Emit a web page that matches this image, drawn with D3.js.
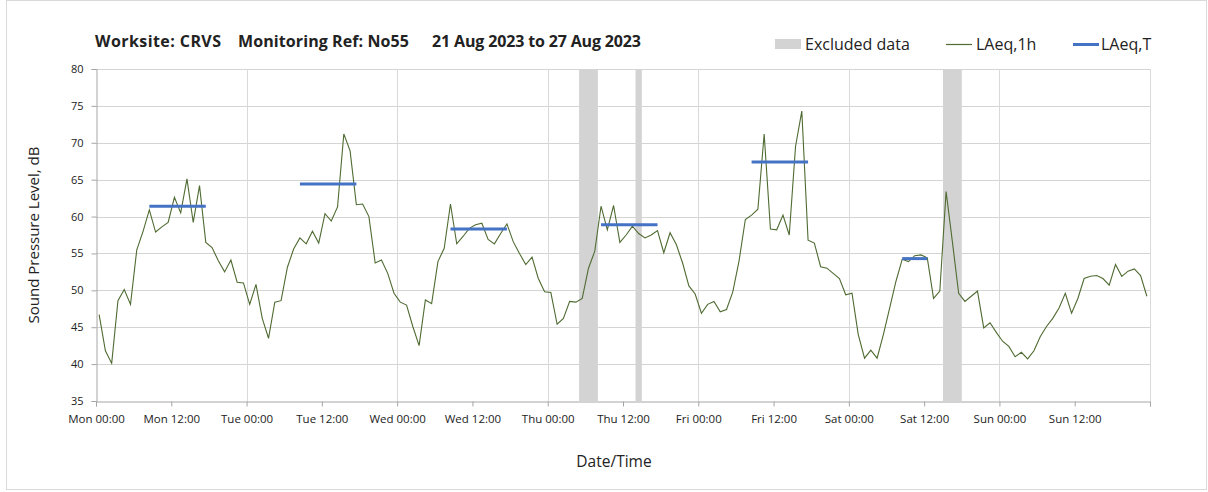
<!DOCTYPE html>
<html>
<head>
<meta charset="utf-8">
<script src="https://cdn.jsdelivr.net/npm/d3@7"></script>
<style>
  body { margin: 0; background: #fff; }
  svg text { font-family: "Open Sans", "Noto Sans", sans-serif; fill: #222; }
</style>
</head>
<body>
<div id="chart"></div>
<script>
// hourly LAeq,1h values, one array per day (point sits mid-hour)
var monLevels = [46.7, 41.8, 40.1, 48.6, 50.1, 48.1, 55.5, 58.0, 60.9, 57.9, 58.6, 59.2, 62.6, 60.5, 65.1, 59.2, 64.2, 56.5, 55.8, 54.0, 52.5, 54.1, 51.1, 51.0];
var tueLevels = [48.1, 50.8, 46.2, 43.5, 48.4, 48.6, 53.1, 55.6, 57.1, 56.3, 58.0, 56.4, 60.4, 59.4, 61.3, 71.2, 68.9, 61.6, 61.7, 60.0, 53.7, 54.1, 52.3, 49.6];
var wedLevels = [48.4, 48.0, 45.1, 42.5, 48.7, 48.2, 53.9, 55.7, 61.7, 56.3, 57.3, 58.4, 58.9, 59.1, 56.9, 56.3, 57.7, 59.0, 56.6, 55.0, 53.5, 54.5, 51.6, 49.8];
var thuLevels = [49.7, 45.4, 46.2, 48.5, 48.4, 48.9, 53.0, 55.3, 61.4, 58.2, 61.5, 56.5, 57.5, 58.7, 57.7, 57.1, 57.5, 58.1, 55.1, 57.8, 56.2, 53.7, 50.6, 49.5];
var friLevels = [46.9, 48.1, 48.5, 47.1, 47.4, 49.8, 54.0, 59.6, 60.2, 61.0, 71.2, 58.3, 58.2, 60.2, 57.5, 69.5, 74.3, 56.8, 56.4, 53.2, 53.0, 52.3, 51.6, 49.4];
var satLevels = [49.6, 44.0, 40.8, 41.9, 40.8, 44.0, 47.6, 51.2, 54.2, 53.9, 54.7, 54.8, 54.4, 48.9, 49.9, 63.4, 56.6, 49.6, 48.5, 49.2, 49.9, 44.9, 45.6, 44.3];
var sunLevels = [43.1, 42.4, 41.0, 41.6, 40.7, 41.8, 43.7, 45.1, 46.2, 47.6, 49.6, 46.9, 48.9, 51.6, 51.9, 52.0, 51.6, 50.7, 53.5, 51.9, 52.6, 52.9, 52.0, 49.2];

// LAeq,T periods (hours from Mon 00:00)
var periodStart = [8.5, 32.5, 56.5, 80.5, 104.5, 128.5];
var periodEnd   = [17.5, 41.5, 65.5, 89.5, 113.5, 132.5];
var periodLevel = [61.4, 64.4, 58.3, 58.9, 67.4, 54.3];

// excluded data windows (hours from Mon 00:00)
var excludedStart = [77, 86, 135];
var excludedEnd   = [80, 87, 138];

var yTicks = [35, 40, 45, 50, 55, 60, 65, 70, 75, 80];
var startDate = new Date(2023, 7, 21, 0, 0);

function hoursFrom(h) {
    return new Date(startDate.getTime() + h * 3600 * 1000);
}

var allLevels = [].concat(monLevels, tueLevels, wedLevels, thuLevels, friLevels, satLevels, sunLevels);
var hourly = allLevels.map(function(v, i) { return {date: hoursFrom(i + 0.5), level: v}; });

var width = 1208, height = 492;
var margin = {top: 69, right: 58, bottom: 91, left: 96};

var svg = d3.select("#chart").append("svg")
    .attr("width", width)
    .attr("height", height);

// outer chart border
svg.append("rect")
    .attr("x", 6.5).attr("y", 0.5)
    .attr("width", width - 8).attr("height", height - 3)
    .attr("fill", "none")
    .attr("stroke", "#d9d9d9");

var x = d3.scaleTime()
    .domain([startDate, hoursFrom(168)])
    .range([margin.left, width - margin.right]);
var y = d3.scaleLinear()
    .domain([35, 80])
    .range([height - margin.bottom, margin.top]);

var formatTick = d3.timeFormat("%a %H:%M");

// excluded bands
svg.selectAll(".excluded")
    .data(excludedStart)
  .enter().append("rect")
    .attr("class", "excluded")
    .attr("x", function(d) { return x(hoursFrom(d)); })
    .attr("width", function(d, i) { return x(hoursFrom(excludedEnd[i])) - x(hoursFrom(d)); })
    .attr("y", y(80))
    .attr("height", y(35) - y(80))
    .attr("fill", "#d3d3d3");

// horizontal grid
svg.append("g")
    .selectAll("line")
    .data(yTicks.slice(1))
  .enter().append("line")
    .attr("x1", x.range()[0]).attr("x2", x.range()[1])
    .attr("y1", function(d) { return Math.round(y(d)) + 0.5; })
    .attr("y2", function(d) { return Math.round(y(d)) + 0.5; })
    .attr("stroke", "#d4d4d4")
    .attr("stroke-width", 1.2);

// vertical grid at midnight
var midnights = d3.timeDay.range(hoursFrom(24), hoursFrom(169));
svg.append("g")
    .selectAll("line")
    .data(midnights)
  .enter().append("line")
    .attr("x1", function(d) { return Math.round(x(d)) + 0.5; })
    .attr("x2", function(d) { return Math.round(x(d)) + 0.5; })
    .attr("y1", y(80)).attr("y2", y(35))
    .attr("stroke", "#d9d9d9")
    .attr("stroke-width", 1);

// y axis
var yAxis = svg.append("g")
    .attr("transform", "translate(" + (margin.left + 0.5) + ",0)")
    .call(d3.axisLeft(y).tickValues(yTicks).tickSize(5).tickPadding(8));
yAxis.select(".domain").attr("stroke", "#a6a6a6");
yAxis.selectAll(".tick line").attr("stroke", "#a6a6a6");
yAxis.selectAll("text").style("font-size", "11px").attr("fill", "#333");

// x axis
var xAxis = svg.append("g")
    .attr("transform", "translate(0," + (Math.round(y(35)) + 0.5) + ")")
    .call(d3.axisBottom(x)
        .tickValues(d3.timeHour.every(12).range(startDate, hoursFrom(169)))
        .tickSize(5)
        .tickPadding(8)
        .tickFormat(function(d) { return d < hoursFrom(168) ? formatTick(d) : ""; }));
xAxis.select(".domain").attr("stroke", "#a6a6a6");
xAxis.selectAll(".tick line").attr("stroke", "#a6a6a6");
xAxis.selectAll("text").style("font-size", "11.5px").attr("fill", "#333");

// hourly line
var line = d3.line()
    .x(function(d) { return x(d.date); })
    .y(function(d) { return y(d.level); });

svg.append("path")
    .datum(hourly)
    .attr("fill", "none")
    .attr("stroke", "#4f6b32")
    .attr("stroke-width", 1.1)
    .attr("d", line);

// LAeq,T bars
svg.selectAll(".laeqT")
    .data(periodLevel)
  .enter().append("line")
    .attr("class", "laeqT")
    .attr("x1", function(d, i) { return x(hoursFrom(periodStart[i])); })
    .attr("x2", function(d, i) { return x(hoursFrom(periodEnd[i])); })
    .attr("y1", function(d) { return y(d); })
    .attr("y2", function(d) { return y(d); })
    .attr("stroke", "#4472c4")
    .attr("stroke-width", 3);

// title
var title = svg.append("g").style("font-weight", "bold").style("font-size", "16px");
title.append("text").attr("x", 95).attr("y", 47).attr("textLength", 126).text("Worksite: CRVS");
title.append("text").attr("x", 238).attr("y", 47).attr("textLength", 171).text("Monitoring Ref: No55");
title.append("text").attr("x", 432).attr("y", 47).attr("textLength", 209).text("21 Aug 2023 to 27 Aug 2023");

// legend
var legend = svg.append("g").style("font-size", "16px");
legend.append("rect").attr("x", 775).attr("y", 39).attr("width", 26).attr("height", 10).attr("fill", "#d3d3d3");
legend.append("text").attr("x", 805).attr("y", 50).text("Excluded data");
legend.append("line").attr("x1", 946).attr("x2", 972).attr("y1", 44.5).attr("y2", 44.5)
    .attr("stroke", "#4f6b32").attr("stroke-width", 1.2);
legend.append("text").attr("x", 976).attr("y", 50).text("LAeq,1h");
legend.append("line").attr("x1", 1073).attr("x2", 1099).attr("y1", 44.5).attr("y2", 44.5)
    .attr("stroke", "#4472c4").attr("stroke-width", 3);
legend.append("text").attr("x", 1101).attr("y", 50).text("LAeq,T");

// axis titles
svg.append("text")
    .attr("transform", "translate(39," + ((y(35) + y(80)) / 2) + ") rotate(-90)")
    .attr("text-anchor", "middle")
    .style("font-size", "15px")
    .text("Sound Pressure Level, dB");

svg.append("text")
    .attr("x", (x.range()[0] + x.range()[1]) / 2 - 9)
    .attr("y", 467)
    .attr("text-anchor", "middle")
    .style("font-size", "15.5px")
    .text("Date/Time");
</script>
</body>
</html>
